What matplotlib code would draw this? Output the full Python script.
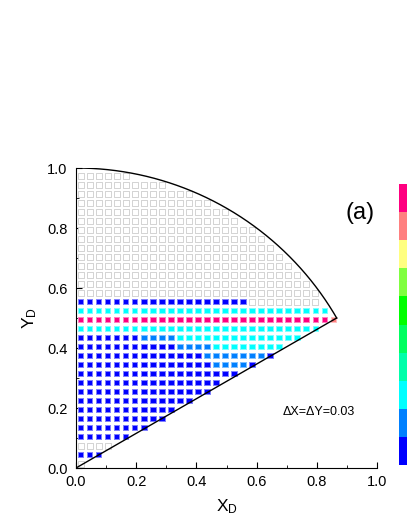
"""Sector grid map with colour levels per cell."""

import numpy as np
import matplotlib
matplotlib.use("Agg")
import matplotlib.pyplot as plt
from matplotlib.colors import ListedColormap, BoundaryNorm, to_rgb
from matplotlib.cm import ScalarMappable

plt.rcParams["font.family"] = ["Liberation Sans", "DejaVu Sans"]
plt.rcParams["mathtext.default"] = "regular"

# grid spacing (dX = dY)
step = 0.03
sector_angle = 30.0  # lower boundary angle in degrees

# colour scale, bottom to top
level_colors = ["#0000ff", "#0080ff", "#00ffff", "#00ffaa", "#00ff60",
                "#00ff00", "#80ff40", "#ffff80", "#ff8080", "#ff0080"]

# coloured rows: row index -> runs of (level, count) from x = 0;
# remaining cells of a row stay empty
row_runs = {
    1: [(0, 3)],
    3: [(0, 6)],
    4: [(0, 8)],
    5: [(0, 10)],
    6: [(0, 11)],
    7: [(0, 13)],
    8: [(0, 15)],
    9: [(0, 16)],
    10: [(0, 18)],
    11: [(0, 15), (1, 4), (0, 1)],
    12: [(0, 14), (1, 7), (0, 1)],
    13: [(0, 11), (1, 4), (2, 8)],
    14: [(0, 7), (1, 4), (2, 14)],
    15: [(2, 27)],
    16: [(9, 28), (8, 1)],
    17: [(2, 28)],
    18: [(0, 19)],
}

# cells of the sector
n = int(round(1.0 / step))
tan_a = np.tan(np.radians(sector_angle))
empty_x, empty_y = [], []
fill_x, fill_y, fill_lvl = [], [], []
for j in range(n):
    y = (j + 0.5) * step
    levels = []
    for lvl, cnt in row_runs.get(j, []):
        levels += [lvl] * cnt
    for i in range(n):
        x = (i + 0.5) * step
        if y < x * tan_a or np.hypot(x, y) > 0.99:
            continue
        if i < len(levels):
            fill_x.append(x)
            fill_y.append(y)
            fill_lvl.append(levels[i])
        else:
            empty_x.append(x)
            empty_y.append(y)

fig = plt.figure(figsize=(4.07, 5.27), dpi=100)
ax = fig.add_axes([76 / 407, 59 / 527, 301 / 407, 300 / 527])

cmap = ListedColormap(level_colors)
norm = BoundaryNorm(np.arange(len(level_colors) + 1), cmap.N)

ax.scatter(empty_x, empty_y, marker="s", s=16, facecolor="white",
           edgecolor="#cccccc", linewidth=0.6, zorder=2)
face = [level_colors[l] for l in fill_lvl]
edge = [tuple(0.5 * c + 0.5 for c in to_rgb(level_colors[l])) for l in fill_lvl]
ax.scatter(fill_x, fill_y, marker="s", s=16, c=face, edgecolors=edge,
           linewidth=0.7, zorder=3)

# sector boundary
a_end = np.radians(sector_angle)
theta = np.linspace(np.pi / 2, a_end, 200)
ax.plot(np.cos(theta), np.sin(theta), color="black", lw=1.0, zorder=4)
ax.plot([0, np.cos(a_end)], [0, np.sin(a_end)], color="black", lw=1.0, zorder=4)

ax.set_xlim(0, 1)
ax.set_ylim(0, 1)
ax.spines["top"].set_visible(False)
ax.spines["right"].set_visible(False)
ax.set_xticks(np.arange(0, 1.01, 0.2))
ax.set_yticks(np.arange(0, 1.01, 0.2))
ax.set_xticks(np.arange(0.1, 1.0, 0.2), minor=True)
ax.set_yticks(np.arange(0.1, 1.0, 0.2), minor=True)
ax.tick_params(which="both", direction="in", labelsize=10.5)
ax.tick_params(which="major", length=4)
ax.tick_params(which="minor", length=2.5)
ax.tick_params(axis="y", pad=6)
ax.tick_params(axis="x", pad=5)
ax.set_xlabel("$X_D$", fontsize=12.5, labelpad=6)
ax.set_ylabel("$Y_D$", fontsize=12.5, labelpad=6)

ax.text(0.945, 0.85, "(a)", fontsize=17, ha="center", va="center")
ax.text(0.805, 0.187, "\u0394X=\u0394Y=0.03", fontsize=9, ha="center", va="center")

# colour bar, cut by the figure edge
cax = fig.add_axes([399 / 407, 62 / 527, 0.04, 281 / 527])
cb = fig.colorbar(ScalarMappable(norm=norm, cmap=cmap), cax=cax)
cb.outline.set_visible(False)
cb.set_ticks([])

fig.savefig("out.png", dpi=100)
